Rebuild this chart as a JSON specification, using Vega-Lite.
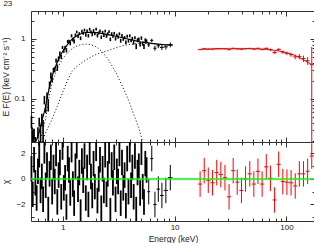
{
"$schema":"https://vega.github.io/schema/vega-lite/v6.json",
"padding":{"left":1,"top":0,"right":1,"bottom":0},
"title":{"text":"23","anchor":"start","frame":"bounds","fontSize":8,"fontWeight":"normal","color":"#222","offset":2,"dx":2},
"spacing":0,
"bounds":"flush",
"datasets":{
"black":[
{"e":0.525,"f":0.042,"fe":0.010,"c":0.8,"s":1},{"e":0.539,"f":0.0198,"fe":0.0093,"c":-1.2,"s":1},{"e":0.554,"f":0.0261,"fe":0.0054,"c":1.5,"s":1},{"e":0.569,"f":0.0173,"fe":0.0057,"c":-0.3,"s":1},{"e":0.584,"f":0.0116,"fe":0.0063,"c":-1.5,"s":1},{"e":0.6,"f":0.0276,"fe":0.006,"c":0.6,"s":1},{"e":0.616,"f":0.0413,"fe":0.007,"c":1.9,"s":1},{"e":0.633,"f":0.0271,"fe":0.0088,"c":-0.9,"s":1},{"e":0.65,"f":0.0452,"fe":0.0108,"c":0.2,"s":1},{"e":0.667,"f":0.0312,"fe":0.013,"c":-1.6,"s":1},
{"e":0.685,"f":0.0961,"fe":0.0155,"c":2.2,"s":1},{"e":0.704,"f":0.0694,"fe":0.0113,"c":-0.5,"s":1},{"e":0.723,"f":0.113,"fe":0.0146,"c":1.1,"s":1},{"e":0.742,"f":0.080,"fe":0.0188,"c":-2.4,"s":1},{"e":0.762,"f":0.170,"fe":0.024,"c":0.4,"s":1},{"e":0.783,"f":0.244,"fe":0.029,"c":1.7,"s":1},{"e":0.804,"f":0.212,"fe":0.0235,"c":-1.0,"s":1},{"e":0.826,"f":0.300,"fe":0.0275,"c":0.9,"s":1},{"e":0.848,"f":0.309,"fe":0.0315,"c":-0.2,"s":1},{"e":0.871,"f":0.432,"fe":0.036,"c":2.0,"s":1},
{"e":0.894,"f":0.332,"fe":0.0405,"c":-1.8,"s":1},{"e":0.918,"f":0.464,"fe":0.045,"c":0.3,"s":1},{"e":0.943,"f":0.565,"fe":0.05,"c":1.3,"s":1},{"e":0.969,"f":0.496,"fe":0.0385,"c":-1.4,"s":1},{"e":0.995,"f":0.717,"fe":0.0427,"c":2.5,"s":1},{"e":1.022,"f":0.628,"fe":0.0462,"c":-0.7,"s":1},{"e":1.049,"f":0.715,"fe":0.0497,"c":0.1,"s":1},{"e":1.078,"f":0.643,"fe":0.0532,"c":-2.2,"s":1},{"e":1.107,"f":0.901,"fe":0.0567,"c":1.6,"s":1},{"e":1.137,"f":0.902,"fe":0.0602,"c":0.7,"s":1},
{"e":1.167,"f":0.840,"fe":0.0637,"c":-1.1,"s":1},{"e":1.199,"f":1.12,"fe":0.0676,"c":2.3,"s":1},{"e":1.231,"f":0.972,"fe":0.07,"c":-0.4,"s":1},{"e":1.264,"f":0.910,"fe":0.0735,"c":-1.9,"s":1},{"e":1.298,"f":1.155,"fe":0.0654,"c":1.0,"s":1},{"e":1.333,"f":1.295,"fe":0.0672,"c":2.6,"s":1},{"e":1.369,"f":1.095,"fe":0.069,"c":-0.8,"s":1},{"e":1.406,"f":1.215,"fe":0.0708,"c":0.5,"s":1},{"e":1.444,"f":1.021,"fe":0.0726,"c":-2.6,"s":1},{"e":1.483,"f":1.333,"fe":0.0738,"c":1.4,"s":1},
{"e":1.523,"f":1.238,"fe":0.0747,"c":-0.1,"s":1},{"e":1.564,"f":1.396,"fe":0.0756,"c":1.8,"s":1},{"e":1.607,"f":1.156,"fe":0.0762,"c":-1.5,"s":1},{"e":1.65,"f":1.344,"fe":0.0765,"c":0.9,"s":1},{"e":1.695,"f":1.126,"fe":0.0768,"c":-2.0,"s":1},{"e":1.74,"f":1.441,"fe":0.0768,"c":2.1,"s":1},{"e":1.787,"f":1.295,"fe":0.0768,"c":0.2,"s":1},{"e":1.835,"f":1.178,"fe":0.0767,"c":-1.3,"s":1},{"e":1.885,"f":1.367,"fe":0.0765,"c":1.2,"s":1},{"e":1.936,"f":1.224,"fe":0.0762,"c":-0.6,"s":1},
{"e":1.988,"f":1.447,"fe":0.0759,"c":2.4,"s":1},{"e":2.042,"f":1.130,"fe":0.0755,"c":-1.7,"s":1},{"e":2.097,"f":1.25,"fe":0.075,"c":0.0,"s":1},{"e":2.153,"f":1.352,"fe":0.0744,"c":1.5,"s":1},{"e":2.211,"f":1.060,"fe":0.0738,"c":-2.3,"s":1},{"e":2.271,"f":1.279,"fe":0.0732,"c":0.8,"s":1},{"e":2.332,"f":1.145,"fe":0.0726,"c":-0.9,"s":1},{"e":2.395,"f":1.337,"fe":0.072,"c":1.9,"s":1},{"e":2.46,"f":1.104,"fe":0.0714,"c":-1.2,"s":1},{"e":2.526,"f":1.208,"fe":0.0708,"c":0.4,"s":1},
{"e":2.594,"f":1.319,"fe":0.0699,"c":2.2,"s":1},{"e":2.664,"f":0.982,"fe":0.0693,"c":-2.5,"s":1},{"e":2.736,"f":1.215,"fe":0.0684,"c":1.1,"s":1},{"e":2.81,"f":1.110,"fe":0.0678,"c":-0.3,"s":1},{"e":2.886,"f":1.234,"fe":0.0672,"c":1.7,"s":1},{"e":2.964,"f":0.999,"fe":0.0663,"c":-1.6,"s":1},{"e":3.044,"f":1.138,"fe":0.0712,"c":0.6,"s":1},{"e":3.126,"f":1.066,"fe":0.0702,"c":-0.2,"s":1},{"e":3.21,"f":1.209,"fe":0.0696,"c":2.0,"s":1},{"e":3.297,"f":0.929,"fe":0.0689,"c":-1.9,"s":1},
{"e":3.386,"f":1.133,"fe":0.0679,"c":1.3,"s":1},{"e":3.477,"f":0.988,"fe":0.0673,"c":-0.7,"s":1},{"e":3.571,"f":1.045,"fe":0.0666,"c":0.3,"s":1},{"e":3.667,"f":0.872,"fe":0.0657,"c":-2.1,"s":1},{"e":3.766,"f":1.104,"fe":0.065,"c":1.6,"s":1},{"e":3.868,"f":0.926,"fe":0.0644,"c":-1.0,"s":1},{"e":3.972,"f":1.121,"fe":0.0634,"c":2.3,"s":1},{"e":4.08,"f":0.934,"fe":0.0627,"c":-0.5,"s":1},{"e":4.19,"f":1.011,"fe":0.0621,"c":0.9,"s":1},{"e":4.303,"f":0.859,"fe":0.0614,"c":-1.4,"s":1},
{"e":4.419,"f":1.039,"fe":0.0605,"c":1.8,"s":1},{"e":4.538,"f":0.743,"fe":0.0736,"c":-2.4,"s":1},{"e":4.661,"f":0.946,"fe":0.0728,"c":0.5,"s":1},{"e":4.787,"f":0.972,"fe":0.072,"c":1.0,"s":1},{"e":4.916,"f":0.812,"fe":0.0712,"c":-1.1,"s":1},{"e":5.049,"f":1.028,"fe":0.0704,"c":2.1,"s":1},{"e":5.185,"f":0.833,"fe":0.07,"c":-0.6,"s":1},{"e":5.325,"f":0.745,"fe":0.0696,"c":-1.8,"s":1},{"e":5.469,"f":0.948,"fe":0.0692,"c":1.2,"s":1},{"e":5.616,"f":0.908,"fe":0.0688,"c":0.7,"s":1}
],
"wide":[
{"e":5.87,"e1":5.7,"e2":6.05,"f":0.79,"fe":0.06,"c":-1.0,"s":1},{"e":6.25,"e1":6.05,"e2":6.45,"f":0.94,"fe":0.062,"c":1.6,"s":1},{"e":6.67,"e1":6.45,"e2":6.9,"f":0.695,"fe":0.065,"c":-2.0,"s":1},{"e":7.15,"e1":6.9,"e2":7.4,"f":0.763,"fe":0.065,"c":-0.8,"s":1},{"e":7.7,"e1":7.4,"e2":8.0,"f":0.717,"fe":0.068,"c":-1.3,"s":1},{"e":8.35,"e1":8.0,"e2":8.7,"f":0.732,"fe":0.07,"c":-0.9,"s":1},{"e":9.15,"e1":8.7,"e2":9.6,"f":0.792,"fe":0.072,"c":0.1,"s":1}
],
"red":[
{"e":16.9,"e1":16.2,"e2":17.6,"f":0.659,"fe":0.0146,"m":0.665,"c":-0.4,"s":1},{"e":18.4,"e1":17.6,"e2":19.2,"f":0.68,"fe":0.0147,"m":0.67,"c":0.65,"s":1},{"e":20.0,"e1":19.2,"e2":20.9,"f":0.671,"fe":0.0148,"m":0.672,"c":-0.1,"s":1},{"e":21.8,"e1":20.9,"e2":22.8,"f":0.671,"fe":0.0149,"m":0.675,"c":-0.3,"s":1},{"e":23.8,"e1":22.8,"e2":24.8,"f":0.685,"fe":0.015,"m":0.677,"c":0.5,"s":1},{"e":25.9,"e1":24.8,"e2":27.0,"f":0.685,"fe":0.015,"m":0.68,"c":0.35,"s":1},{"e":28.2,"e1":27.0,"e2":29.4,"f":0.682,"fe":0.0163,"m":0.68,"c":0.1,"s":1},
{"e":30.7,"e1":29.4,"e2":32.0,"f":0.658,"fe":0.0163,"m":0.681,"c":-1.4,"s":1},{"e":33.4,"e1":32.0,"e2":34.8,"f":0.693,"fe":0.0164,"m":0.682,"c":0.65,"s":1},{"e":36.3,"e1":34.8,"e2":37.9,"f":0.678,"fe":0.0177,"m":0.682,"c":-0.25,"s":1},{"e":39.6,"e1":37.9,"e2":41.3,"f":0.667,"fe":0.0178,"m":0.683,"c":-0.9,"s":1},{"e":43.1,"e1":41.3,"e2":45.0,"f":0.683,"fe":0.019,"m":0.683,"c":0,"s":1},{"e":47.0,"e1":45.0,"e2":49.0,"f":0.69,"fe":0.02,"m":0.682,"c":0.4,"s":1},{"e":51.1,"e1":49.0,"e2":53.3,"f":0.672,"fe":0.021,"m":0.68,"c":-0.4,"s":1},
{"e":55.6,"e1":53.3,"e2":58.1,"f":0.691,"fe":0.023,"m":0.677,"c":0.6,"s":1},{"e":60.6,"e1":58.1,"e2":63.2,"f":0.662,"fe":0.024,"m":0.672,"c":-0.4,"s":1},{"e":66.0,"e1":63.2,"e2":68.9,"f":0.69,"fe":0.026,"m":0.665,"c":0.95,"s":1},{"e":71.9,"e1":68.9,"e2":75.0,"f":0.656,"fe":0.028,"m":0.655,"c":0.05,"s":1},{"e":78.3,"e1":75.0,"e2":81.7,"f":0.59,"fe":0.03,"m":0.64,"c":-1.65,"s":1},{"e":85.2,"e1":81.7,"e2":88.9,"f":0.662,"fe":0.032,"m":0.625,"c":1.15,"s":1},{"e":92.8,"e1":88.9,"e2":96.8,"f":0.598,"fe":0.035,"m":0.605,"c":-0.2,"s":1},
{"e":101,"e1":96.8,"e2":105.4,"f":0.571,"fe":0.038,"m":0.58,"c":-0.25,"s":1},{"e":110,"e1":105.4,"e2":114.8,"f":0.542,"fe":0.042,"m":0.555,"c":-0.3,"s":1},{"e":119.8,"e1":114.8,"e2":125,"f":0.5,"fe":0.046,"m":0.525,"c":-0.55,"s":1},{"e":130.4,"e1":125,"e2":136.1,"f":0.505,"fe":0.05,"m":0.485,"c":0.4,"s":1},{"e":142,"e1":136.1,"e2":148.2,"f":0.467,"fe":0.056,"m":0.445,"c":0.4,"s":1},{"e":154.7,"e1":148.2,"e2":161.4,"f":0.43,"fe":0.065,"m":0.405,"c":0.6,"s":1},{"e":168.4,"e1":161.4,"e2":175.7,"f":0.37,"fe":0.36,"m":0.37,"c":1.8,"s":1}
],
"bm":[
{"e":0.52,"v":0.035},{"e":0.54,"v":0.031},{"e":0.548,"v":0.018},{"e":0.58,"v":0.02},{"e":0.6,"v":0.024},{"e":0.62,"v":0.029},{"e":0.65,"v":0.043},{"e":0.68,"v":0.058},{"e":0.7,"v":0.072},{"e":0.72,"v":0.095},{"e":0.75,"v":0.14},{"e":0.78,"v":0.19},{"e":0.8,"v":0.235},{"e":0.85,"v":0.32},{"e":0.9,"v":0.42},{"e":0.95,"v":0.52},{"e":1.0,"v":0.62},{"e":1.1,"v":0.8},{"e":1.2,"v":0.965},{"e":1.3,"v":1.09},{"e":1.4,"v":1.18},{"e":1.5,"v":1.235},{"e":1.6,"v":1.265},{"e":1.7,"v":1.28},{"e":1.8,"v":1.28},{"e":2.0,"v":1.265},{"e":2.2,"v":1.23},{"e":2.5,"v":1.18},{"e":2.8,"v":1.13},{"e":3.0,"v":1.1},{"e":3.5,"v":1.03},{"e":4.0,"v":0.97},{"e":4.5,"v":0.922},{"e":5.0,"v":0.882},{"e":5.6,"v":0.86},{"e":6.0,"v":0.845},{"e":7.0,"v":0.815},{"e":8.0,"v":0.797},{"e":9.6,"v":0.78}
],
"bb":[
{"e":0.62,"v":0.019},{"e":0.65,"v":0.025},{"e":0.7,"v":0.045},{"e":0.75,"v":0.1},{"e":0.8,"v":0.18},{"e":0.85,"v":0.25},{"e":0.9,"v":0.33},{"e":1.0,"v":0.47},{"e":1.1,"v":0.58},{"e":1.2,"v":0.67},{"e":1.3,"v":0.74},{"e":1.4,"v":0.78},{"e":1.5,"v":0.805},{"e":1.65,"v":0.815},{"e":1.8,"v":0.79},{"e":2.0,"v":0.73},{"e":2.23,"v":0.62},{"e":2.5,"v":0.48},{"e":2.65,"v":0.4},{"e":3.0,"v":0.27},{"e":3.37,"v":0.17},{"e":3.87,"v":0.095},{"e":4.29,"v":0.056},{"e":4.75,"v":0.034},{"e":5.1,"v":0.0215},{"e":5.2,"v":0.019}
],
"pl":[
{"e":0.65,"v":0.019},{"e":0.72,"v":0.03},{"e":0.8,"v":0.045},{"e":0.9,"v":0.078},{"e":1.0,"v":0.13},{"e":1.1,"v":0.2},{"e":1.2,"v":0.28},{"e":1.3,"v":0.33},{"e":1.4,"v":0.37},{"e":1.6,"v":0.44},{"e":1.8,"v":0.5},{"e":2.0,"v":0.55},{"e":2.23,"v":0.59},{"e":2.5,"v":0.63},{"e":2.75,"v":0.67},{"e":3.0,"v":0.71},{"e":3.5,"v":0.77},{"e":3.9,"v":0.8},{"e":4.5,"v":0.83},{"e":5.0,"v":0.84},{"e":6.0,"v":0.835},{"e":7.0,"v":0.82},{"e":8.0,"v":0.8},{"e":9.6,"v":0.78}
]
},
"vconcat":[
{
"width":284,"height":131,
"resolve":{"axis":{"x":"independent","y":"independent"}},
"layer":[
{"data":{"name":"bb"},"mark":{"type":"line","color":"#000","strokeWidth":1,"strokeDash":[1,2.2],"clip":true},
 "encoding":{
  "x":{"field":"e","type":"quantitative","scale":{"type":"log","domain":[0.52,180],"nice":false},
       "axis":{"orient":"bottom","values":[0.6,0.7,0.8,0.9,1,2,3,4,5,6,7,8,9,10,20,30,40,50,60,70,80,90,100],"labels":false,"title":null,
               "tickSize":{"condition":{"test":"datum.value==1||datum.value==10||datum.value==100","value":-5},"value":-3}}},
  "y":{"field":"v","type":"quantitative","scale":{"type":"log","domain":[0.019,2.9],"nice":false,"clamp":true},
       "axis":{"orient":"left","values":[0.02,0.03,0.04,0.05,0.06,0.07,0.08,0.09,0.1,0.2,0.3,0.4,0.5,0.6,0.7,0.8,0.9,1,2],
               "labelExpr":"datum.value==1?'1':datum.value==0.1?'0.1':''","labelPadding":11,
               "tickSize":{"condition":{"test":"datum.value==1||datum.value==0.1","value":-5},"value":-3},
               "title":"E F(E) (keV cm⁻² s⁻¹)","titlePadding":3}}
 }},
{"data":{"name":"pl"},"mark":{"type":"line","color":"#000","strokeWidth":1,"strokeDash":[1,2.2],"clip":true},
 "encoding":{
  "x":{"field":"e","type":"quantitative",
       "axis":{"orient":"top","values":[0.6,0.7,0.8,0.9,1,2,3,4,5,6,7,8,9,10,20,30,40,50,60,70,80,90,100],"labels":false,"title":null,
               "tickSize":{"condition":{"test":"datum.value==1||datum.value==10||datum.value==100","value":-5},"value":-3}}},
  "y":{"field":"v","type":"quantitative",
       "axis":{"orient":"right","values":[0.02,0.03,0.04,0.05,0.06,0.07,0.08,0.09,0.1,0.2,0.3,0.4,0.5,0.6,0.7,0.8,0.9,1,2],"labels":false,"title":null,
               "tickSize":{"condition":{"test":"datum.value==1||datum.value==0.1","value":-5},"value":-3}}}
 }},
{"data":{"name":"black"},"mark":{"type":"errorbar","color":"#000","thickness":1.6},
 "encoding":{"x":{"field":"e","type":"quantitative","axis":null},"y":{"field":"f","type":"quantitative","axis":null},"yError":{"field":"fe"}}},
{"data":{"name":"wide"},"mark":{"type":"errorbar","color":"#000","thickness":1},
 "encoding":{"x":{"field":"e","type":"quantitative","axis":null},"y":{"field":"f","type":"quantitative","axis":null},"yError":{"field":"fe"}}},
{"data":{"name":"wide"},"mark":{"type":"rule","color":"#000","strokeWidth":1},
 "encoding":{"x":{"field":"e1","type":"quantitative","axis":null},"x2":{"field":"e2"},"y":{"field":"f","type":"quantitative","axis":null}}},
{"data":{"name":"red"},"mark":{"type":"errorbar","color":"#ff0000","thickness":1},
 "encoding":{"x":{"field":"e","type":"quantitative","axis":null},"y":{"field":"f","type":"quantitative","axis":null},"yError":{"field":"fe"}}},
{"data":{"name":"red"},"mark":{"type":"rule","color":"#ff0000","strokeWidth":1},
 "encoding":{"x":{"field":"e1","type":"quantitative","axis":null},"x2":{"field":"e2"},"y":{"field":"f","type":"quantitative","axis":null}}},
{"data":{"name":"bm"},"mark":{"type":"line","color":"#000","strokeWidth":1.2,"clip":true},
 "encoding":{"x":{"field":"e","type":"quantitative","axis":null},"y":{"field":"v","type":"quantitative","axis":null}}},
{"data":{"name":"red"},"mark":{"type":"line","color":"#ff0000","strokeWidth":1,"clip":true},
 "encoding":{"x":{"field":"e","type":"quantitative","axis":null},"y":{"field":"m","type":"quantitative","axis":null}}}
]
},
{
"width":284,"height":79,
"resolve":{"axis":{"x":"independent","y":"independent"}},
"layer":[
{"data":{"name":"black"},"mark":{"type":"errorbar","color":"#000","thickness":1.8},
 "encoding":{
  "x":{"field":"e","type":"quantitative","scale":{"type":"log","domain":[0.52,180],"nice":false},
       "axis":{"orient":"bottom","values":[0.6,0.7,0.8,0.9,1,2,3,4,5,6,7,8,9,10,20,30,40,50,60,70,80,90,100],
               "labelExpr":"datum.value==1?'1':datum.value==10?'10':datum.value==100?'100':''","labelPadding":7,
               "tickSize":{"condition":{"test":"datum.value==1||datum.value==10||datum.value==100","value":-5},"value":-3},
               "title":"Energy (keV)","titlePadding":1}},
  "y":{"field":"c","type":"quantitative","scale":{"domain":[-3.3,2.9],"clamp":true,"nice":false,"zero":false},
       "axis":{"orient":"left","values":[-3,-2,-1,0,1,2],
               "labelExpr":"datum.value==2?'2':datum.value==0?'0':datum.value==-2?'−2':''","labelPadding":11,
               "tickSize":{"condition":{"test":"datum.value==2||datum.value==0||datum.value==-2","value":-5},"value":-3},
               "title":"χ","titlePadding":5}},
  "yError":{"field":"s"}
 }},
{"data":{"name":"wide"},"mark":{"type":"errorbar","color":"#000","thickness":1},
 "encoding":{
  "x":{"field":"e","type":"quantitative",
       "axis":{"orient":"top","values":[0.6,0.7,0.8,0.9,1,2,3,4,5,6,7,8,9,10,20,30,40,50,60,70,80,90,100],"labels":false,"title":null,
               "tickSize":{"condition":{"test":"datum.value==1||datum.value==10||datum.value==100","value":-5},"value":-3}}},
  "y":{"field":"c","type":"quantitative",
       "axis":{"orient":"right","values":[-3,-2,-1,0,1,2],"labels":false,"title":null,
               "tickSize":{"condition":{"test":"datum.value==2||datum.value==0||datum.value==-2","value":-5},"value":-3}}},
  "yError":{"field":"s"}
 }},
{"data":{"name":"wide"},"mark":{"type":"rule","color":"#000","strokeWidth":1},
 "encoding":{"x":{"field":"e1","type":"quantitative","axis":null},"x2":{"field":"e2"},"y":{"field":"c","type":"quantitative","axis":null}}},
{"data":{"name":"red"},"mark":{"type":"errorbar","color":"#ff0000","thickness":1},
 "encoding":{"x":{"field":"e","type":"quantitative","axis":null},"y":{"field":"c","type":"quantitative","axis":null},"yError":{"field":"s"}}},
{"data":{"name":"red"},"mark":{"type":"rule","color":"#ff0000","strokeWidth":1},
 "encoding":{"x":{"field":"e1","type":"quantitative","axis":null},"x2":{"field":"e2"},"y":{"field":"c","type":"quantitative","axis":null}}},
{"data":{"values":[{}]},"mark":{"type":"rule","color":"#00ff00","strokeWidth":1.5},
 "encoding":{"y":{"datum":0,"type":"quantitative","axis":null}}}
]
}
],
"config":{
 "font":"Liberation Sans",
 "view":{"stroke":"#333","strokeWidth":1},
 "axis":{"domain":false,"grid":false,"minExtent":0,"tickColor":"#333","tickWidth":1,"labelFont":"Liberation Sans","labelFontSize":8,"labelColor":"#222","labelOverlap":false,"labelFlush":false,"titleFont":"Liberation Sans","titleFontSize":8.5,"titleFontWeight":"normal","titleColor":"#222"}
}
}
